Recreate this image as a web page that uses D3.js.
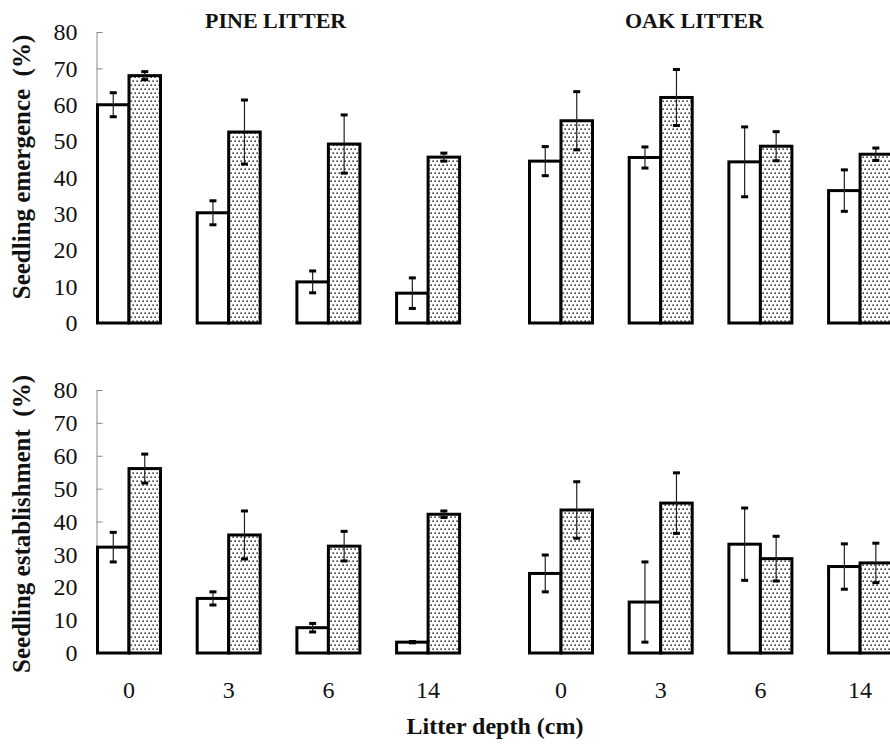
<!DOCTYPE html>
<meta charset="utf-8">
<head>
    <style>
        body {margin: 0; background-color: #ffffff;}
        text {font-family: "Liberation Serif", "Times New Roman", "DejaVu Serif", serif; fill: #111;}
    </style>
    <title></title>
</head>
<body>
    <script src="https://d3js.org/d3.v7.min.js"></script>
    <script>

    const width = 890, height = 744;
    const serif = '"Liberation Serif", "Times New Roman", "DejaVu Serif", serif';

    // categories
    const litterTypes = ["PINE LITTER", "OAK LITTER"];
    const depths = ["0", "3", "6", "14"];
    const seriesKeys = ["open", "stippled"];
    const yTicks = [0, 10, 20, 30, 40, 50, 60, 70, 80];

    // seedling emergence (%), mean and error, per litter type
    const emergencePineOpen = [60, 30.3, 11.3, 8.2];
    const emergencePineOpenErr = [3.3, 3.3, 3, 4.2];
    const emergencePineStip = [68, 52.5, 49.2, 45.6];
    const emergencePineStipErr = [1.1, 8.8, 8, 1.1];
    const emergenceOakOpen = [44.5, 45.5, 44.3, 36.4];
    const emergenceOakOpenErr = [4, 2.9, 9.6, 5.7];
    const emergenceOakStip = [55.6, 62, 48.6, 46.4];
    const emergenceOakStipErr = [8, 7.7, 4, 1.7];

    // seedling establishment (%)
    const establishPineOpen = [32.2, 16.6, 7.7, 3.3];
    const establishPineOpenErr = [4.5, 2, 1.3, 0.2];
    const establishPineStip = [56.1, 35.9, 32.5, 42.2];
    const establishPineStipErr = [4.4, 7.3, 4.5, 1];
    const establishOakOpen = [24.2, 15.5, 33.1, 26.3];
    const establishOakOpenErr = [5.6, 12.2, 11, 6.9];
    const establishOakStip = [43.5, 45.6, 28.7, 27.4];
    const establishOakStipErr = [8.6, 9.2, 6.8, 6];

    function rows(pineOpen, pineOpenErr, pineStip, pineStipErr, oakOpen, oakOpenErr, oakStip, oakStipErr) {
      const out = [];
      const src = {
        "PINE LITTER": [[pineOpen, pineOpenErr], [pineStip, pineStipErr]],
        "OAK LITTER": [[oakOpen, oakOpenErr], [oakStip, oakStipErr]]
      };
      litterTypes.forEach(lt => {
        depths.forEach((d, i) => {
          seriesKeys.forEach((k, j) => {
            out.push({litter: lt, depth: d, key: k, value: src[lt][j][0][i], err: src[lt][j][1][i]});
          });
        });
      });
      return out;
    }

    const panels = [
      {label: "Seedling emergence  (%)", data: rows(emergencePineOpen, emergencePineOpenErr, emergencePineStip, emergencePineStipErr,
          emergenceOakOpen, emergenceOakOpenErr, emergenceOakStip, emergenceOakStipErr), y0: 323, y1: 32, labelY: 167},
      {label: "Seedling establishment  (%)", data: rows(establishPineOpen, establishPineOpenErr, establishPineStip, establishPineStipErr,
          establishOakOpen, establishOakOpenErr, establishOakStip, establishOakStipErr), y0: 653, y1: 390, labelY: 524}
    ];

    var svg = d3.select("body")
      .append("svg")
        .attr("width", width)
        .attr("height", height)
        .attr("font-family", serif);

    svg.append("rect").attr("width", width).attr("height", height).attr("fill", "#fff");

    // stipple fill
    var pat = svg.append("defs").append("pattern")
      .attr("id", "dots")
      .attr("patternUnits", "userSpaceOnUse")
      .attr("width", 4).attr("height", 8);
    pat.append("rect").attr("width", 4).attr("height", 8).attr("fill", "#fff");
    pat.append("rect").attr("x", 0.4).attr("y", 0.4).attr("width", 1.5).attr("height", 1.5).attr("fill", "#222");
    pat.append("rect").attr("x", 2.4).attr("y", 4.4).attr("width", 1.5).attr("height", 1.5).attr("fill", "#222");

    var xLitter = d3.scaleBand()
      .domain(litterTypes)
      .range([97.5, 891.6])
      .paddingInner(0.1618)
      .paddingOuter(0);

    var xDepth = d3.scaleBand()
      .domain(depths)
      .range([0, xLitter.bandwidth()])
      .paddingInner(0.368)
      .paddingOuter(0);

    var xSeries = d3.scaleBand()
      .domain(seriesKeys)
      .range([0, xDepth.bandwidth()]);

    const bx = d => xLitter(d.litter) + xDepth(d.depth) + xSeries(d.key);

    panels.forEach(p => {
      var y = d3.scaleLinear().domain([0, 80]).range([p.y0, p.y1]);

      var ax = svg.append("g")
        .attr("transform", "translate(96.5,0)")
        .call(d3.axisLeft(y).tickValues(yTicks).tickSizeInner(-6).tickSizeOuter(0).tickPadding(19));
      ax.attr("font-family", serif).attr("font-size", 24);
      ax.select(".domain").attr("stroke", "#8a8a8a");
      ax.selectAll(".tick line").attr("stroke", "#8a8a8a");
      ax.selectAll(".tick text").attr("fill", "#111");

      svg.append("text")
        .attr("transform", "translate(30," + p.labelY + ") rotate(-90)")
        .attr("text-anchor", "middle")
        .style("font-size", "25px")
        .style("font-weight", "bold")
        .style("white-space", "pre")
        .text(p.label);

      var g = svg.append("g");
      g.selectAll("rect.bar")
        .data(p.data)
        .enter()
        .append("rect")
          .attr("class", "bar")
          .attr("x", bx)
          .attr("y", d => y(d.value))
          .attr("width", xSeries.bandwidth())
          .attr("height", d => y(0) - y(d.value))
          .attr("fill", d => d.key === "open" ? "#fff" : "url(#dots)")
          .attr("stroke", "#000")
          .attr("stroke-width", 3);

      var eb = g.selectAll("g.err")
        .data(p.data)
        .enter()
        .append("g")
          .attr("class", "err")
          .attr("transform", d => "translate(" + (bx(d) + xSeries.bandwidth() / 2) + ",0)");
      eb.append("line")
        .attr("y1", d => y(d.value + d.err))
        .attr("y2", d => y(d.value - d.err))
        .attr("stroke", "#222")
        .attr("stroke-width", 1.2);
      eb.append("rect")
        .attr("x", -3.5).attr("width", 7).attr("height", 3)
        .attr("y", d => y(d.value + d.err) - 1.5)
        .attr("fill", "#000");
      eb.append("rect")
        .attr("x", -3.5).attr("width", 7).attr("height", 3)
        .attr("y", d => y(d.value - d.err) - 1.5)
        .attr("fill", "#000");
    });

    // depth labels under the lower panel
    litterTypes.forEach(lt => {
      svg.append("g").selectAll("text")
        .data(depths)
        .enter()
        .append("text")
          .attr("x", d => xLitter(lt) + xDepth(d) + xDepth.bandwidth() / 2)
          .attr("y", 698)
          .attr("text-anchor", "middle")
          .style("font-size", "24px")
          .text(d => d);
    });

    // panel titles
    const titleX = [205, 625];
    svg.selectAll("text.title")
      .data(litterTypes)
      .enter()
      .append("text")
        .attr("class", "title")
        .attr("x", (d, i) => titleX[i])
        .attr("y", 28)
        .style("font-size", "22px")
        .style("font-weight", "bold")
        .text(d => d);

    svg.append("text")
      .attr("x", 495)
      .attr("y", 734)
      .attr("text-anchor", "middle")
      .style("font-size", "24px")
      .style("font-weight", "bold")
      .text("Litter depth (cm)");

    </script>
</body>
</html>
